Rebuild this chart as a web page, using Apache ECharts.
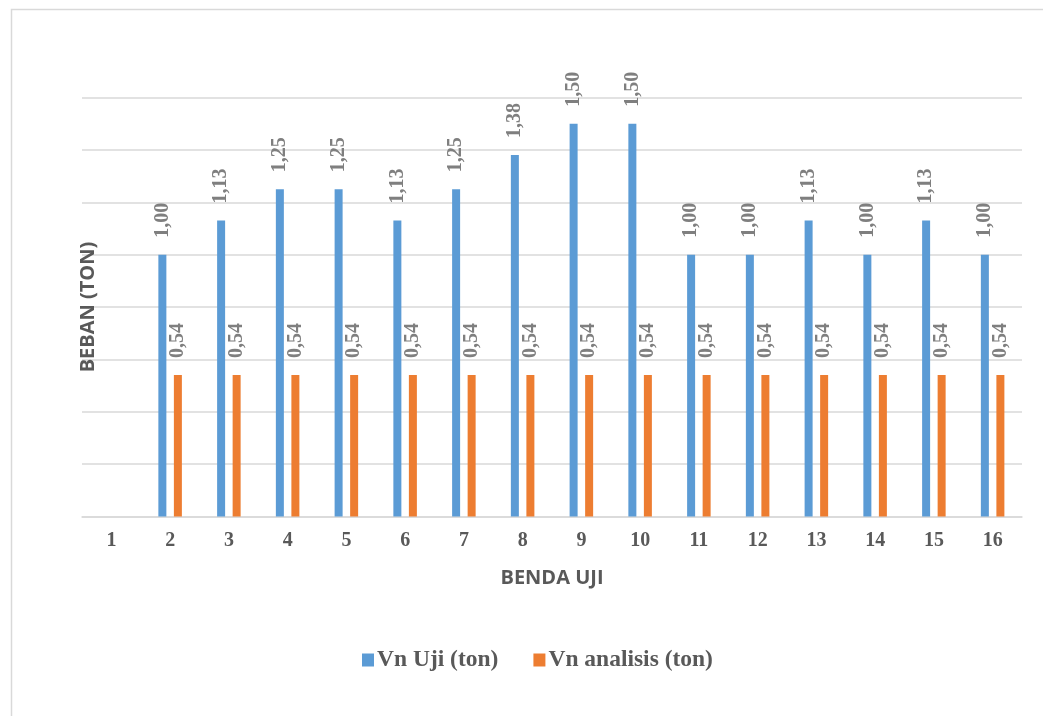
<!DOCTYPE html>
<html>
<head>
<meta charset="utf-8">
<script src="https://cdn.jsdelivr.net/npm/echarts@6/dist/echarts.min.js"></script>
<style>html,body{margin:0;padding:0;background:#fff;}#c{width:1043px;height:716px;}</style>
</head>
<body>
<div id="c"></div>
<script>
const categories = ['1','2','3','4','5','6','7','8','9','10','11','12','13','14','15','16'];
const vnUji = [null,1.00,1.13,1.25,1.25,1.13,1.25,1.38,1.50,1.50,1.00,1.00,1.13,1.00,1.13,1.00];
const vnAnalisis = [null,0.54,0.54,0.54,0.54,0.54,0.54,0.54,0.54,0.54,0.54,0.54,0.54,0.54,0.54,0.54];
const seriesNames = ['Vn Uji (ton)','Vn analisis (ton)'];

const serif = "'Liberation Serif','Times New Roman',serif";
const sans = "'Open Sans','Noto Sans',sans-serif";
const fmt = p => p.value == null ? '' : Number(p.value).toFixed(2).replace('.', ',');
const labelCfg = {
  show: true, position: 'top', rotate: 90, align: 'left', verticalAlign: 'middle',
  distance: 17, formatter: fmt, color: '#7f7f7f', fontFamily: serif, fontWeight: 'bold', fontSize: 20
};

const chart = echarts.init(document.getElementById('c'), null, {renderer: 'canvas'});
chart.setOption({
  backgroundColor: '#fff',
  animation: false,
  graphic: [{
    type: 'rect', left: 9, top: 7, shape: {x: 0, y: 0, width: 1100, height: 800},
    style: {fill: 'none', stroke: '#d9d9d9', lineWidth: 1.5}, z: -1
  }],
  grid: {left: 82, right: 21, top: 97.5, bottom: 199.5},
  legend: {
    left: 357, top: 643, itemWidth: 12, itemHeight: 13, itemGap: 35,
    icon: 'rect',
    textStyle: {fontFamily: serif, fontWeight: 'bold', fontSize: 23.5, color: '#595959', padding: [0,0,0,-2]},
    data: seriesNames
  },
  xAxis: {
    type: 'category', data: categories,
    name: 'BENDA UJI', nameLocation: 'middle', nameGap: 52,
    nameTextStyle: {fontFamily: sans, fontWeight: 'bold', fontSize: 20, color: '#595959'},
    axisLine: {lineStyle: {color: '#d9d9d9', width: 1.5}},
    axisTick: {show: false},
    axisLabel: {margin: 14, fontFamily: serif, fontWeight: 'bold', fontSize: 20, color: '#595959'}
  },
  yAxis: {
    type: 'value', min: 0, max: 1.6, interval: 0.2,
    name: 'BEBAN (TON)', nameLocation: 'middle', nameGap: -16,
    nameTextStyle: {fontFamily: sans, fontWeight: 'bold', fontSize: 20, color: '#595959'},
    axisLine: {show: false}, axisTick: {show: false},
    axisLabel: {show: false},
    splitLine: {lineStyle: {color: '#d9d9d9', width: 1.5}}
  },
  series: [
    {name: seriesNames[0], type: 'bar', data: vnUji, barWidth: 8, barGap: '94%',
     itemStyle: {color: '#5B9BD5'}, label: labelCfg},
    {name: seriesNames[1], type: 'bar', data: vnAnalisis, barWidth: 8,
     itemStyle: {color: '#ED7D31'}, label: labelCfg}
  ]
});
</script>
</body>
</html>
